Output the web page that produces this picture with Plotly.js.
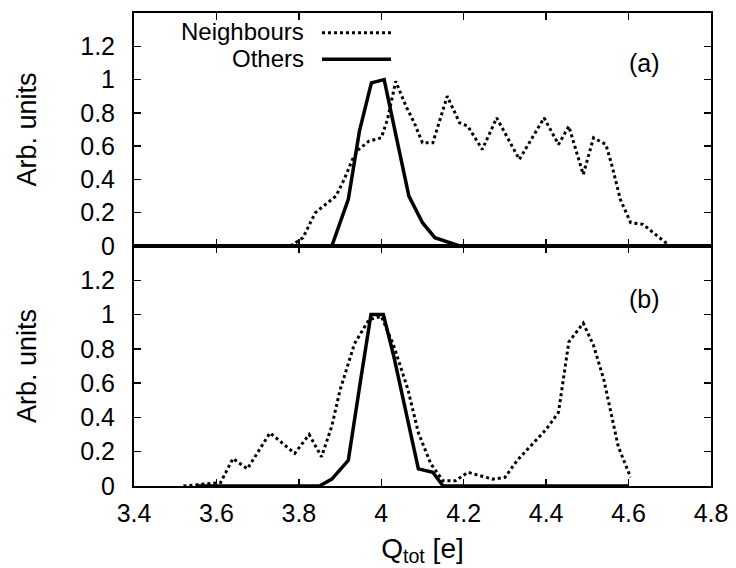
<!DOCTYPE html>
<html>
<head>
<meta charset="utf-8">
<script src="https://cdn.plot.ly/plotly-3.0.1.min.js"></script>
<style>html,body{margin:0;padding:0;background:#fff;}#chart{width:736px;height:568px;}</style>
</head>
<body>
<div id="chart"></div>
<script>
// Panel (a)
const neighA_x = [3.78,3.81,3.84,3.86,3.89,3.91,3.93,3.945,3.97,4.0,4.015,4.035,4.06,4.08,4.10,4.125,4.16,4.19,4.21,4.245,4.28,4.335,4.395,4.43,4.455,4.49,4.515,4.545,4.56,4.58,4.605,4.635,4.66,4.695];
const neighA_y = [0,0.05,0.2,0.24,0.3,0.4,0.52,0.58,0.63,0.65,0.76,0.99,0.84,0.74,0.62,0.62,0.9,0.74,0.72,0.58,0.77,0.52,0.77,0.61,0.72,0.43,0.65,0.61,0.48,0.28,0.14,0.13,0.08,0.01];
const othersA_x = [3.6,3.88,3.92,3.947,3.976,4.007,4.036,4.067,4.10,4.13,4.19,4.2];
const othersA_y = [0,0,0.28,0.69,0.98,1.0,0.66,0.30,0.14,0.05,0,0];
// Panel (b)
const neighB_x = [3.52,3.56,3.61,3.64,3.675,3.73,3.79,3.825,3.855,3.88,3.90,3.935,3.97,4.0,4.03,4.065,4.09,4.12,4.15,4.18,4.21,4.27,4.30,4.33,4.37,4.40,4.43,4.455,4.49,4.515,4.54,4.575,4.605];
const neighB_y = [0,0.01,0.02,0.16,0.1,0.31,0.19,0.3,0.17,0.35,0.56,0.83,0.97,0.99,0.82,0.56,0.31,0.13,0.03,0.03,0.08,0.04,0.05,0.15,0.25,0.33,0.43,0.84,0.95,0.82,0.62,0.23,0.05];
const othersB_x = [3.55,3.85,3.88,3.92,3.95,3.975,4.005,4.03,4.09,4.125,4.15,4.6];
const othersB_y = [0,0,0.04,0.15,0.62,1.0,1.0,0.76,0.1,0.08,0,0];

const xTickVals = [3.4,3.6,3.8,4.0,4.2,4.4,4.6,4.8];
const xTickText = ['3.4','3.6','3.8','4','4.2','4.4','4.6','4.8'];
const yTickVals = [0,0.2,0.4,0.6,0.8,1.0,1.2];
const yTickText = ['0','0.2','0.4','0.6','0.8','1','1.2'];
const seriesNames = ['Neighbours','Others'];
const panelLabels = ['(a)','(b)'];

const FONT = 'Liberation Sans, Arial, Helvetica, sans-serif';
const dotLine = {color:'#000', width:3, dash:'dot'};
const solidLine = {color:'#000', width:3.5};

const traces = [
  {x:neighA_x, y:neighA_y, mode:'lines', line:dotLine, name:seriesNames[0], xaxis:'x', yaxis:'y', showlegend:false},
  {x:othersA_x, y:othersA_y, mode:'lines', line:solidLine, name:seriesNames[1], xaxis:'x', yaxis:'y', showlegend:false},
  {x:neighB_x, y:neighB_y, mode:'lines', line:dotLine, name:seriesNames[0], xaxis:'x2', yaxis:'y2', showlegend:false},
  {x:othersB_x, y:othersB_y, mode:'lines', line:solidLine, name:seriesNames[1], xaxis:'x2', yaxis:'y2', showlegend:false}
];

const axCommon = {
  showline:true, linecolor:'#000', linewidth:2, mirror:'ticks',
  ticks:'inside', ticklen:7, tickwidth:1.5, tickcolor:'#000',
  showgrid:false, zeroline:false,
  tickfont:{family:FONT, size:25, color:'#000'}
};

const bottomDomain = [0, 0.5074];
const topDomain = [0.5074, 1];

const layout = {
  width:736, height:568,
  margin:{l:134, r:25, t:13, b:82},
  paper_bgcolor:'#fff', plot_bgcolor:'#fff',
  font:{family:FONT, color:'#000'},
  showlegend:false,
  xaxis: Object.assign({}, axCommon, {domain:[0,1], anchor:'y', range:[3.4,4.8], tickvals:xTickVals, ticktext:xTickText, showticklabels:false}),
  yaxis: Object.assign({}, axCommon, {domain:topDomain, anchor:'x', range:[0,1.4], tickvals:yTickVals, ticktext:yTickText, ticklabelstandoff:12,
    title:{text:'Arb. units', font:{family:FONT, size:27, color:'#000'}, standoff:36}}),
  xaxis2: Object.assign({}, axCommon, {domain:[0,1], anchor:'y2', range:[3.4,4.8], tickvals:xTickVals, ticktext:xTickText, ticklabelstandoff:4,
    title:{text:'Q<sub>tot</sub> [e]', font:{family:FONT, size:28, color:'#000'}, standoff:12}}),
  yaxis2: Object.assign({}, axCommon, {domain:bottomDomain, anchor:'x2', range:[0,1.4], tickvals:yTickVals, ticktext:yTickText, ticklabelstandoff:12,
    title:{text:'Arb. units', font:{family:FONT, size:27, color:'#000'}, standoff:36}}),
  annotations:[
    {xref:'paper', yref:'paper', x:0.2964, y:0.9605, xanchor:'right', yanchor:'middle', text:seriesNames[0], showarrow:false, borderpad:0, font:{family:FONT, size:24, color:'#000'}},
    {xref:'paper', yref:'paper', x:0.2964, y:0.9042, xanchor:'right', yanchor:'middle', text:seriesNames[1], showarrow:false, borderpad:0, font:{family:FONT, size:24, color:'#000'}},
    {xref:'paper', yref:'paper', x:0.8856, y:0.8943, xanchor:'center', yanchor:'middle', text:panelLabels[0], showarrow:false, font:{family:FONT, size:25, color:'#000'}},
    {xref:'paper', yref:'paper', x:0.8856, y:0.3953, xanchor:'center', yanchor:'middle', text:panelLabels[1], showarrow:false, font:{family:FONT, size:25, color:'#000'}}
  ],
  shapes:[
    {type:'line', xref:'paper', yref:'paper', x0:0.3258, x1:0.4454, y0:0.9584, y1:0.9584, line:{color:'#000', width:3, dash:'dot'}},
    {type:'line', xref:'paper', yref:'paper', x0:0.3258, x1:0.4454, y0:0.9021, y1:0.9021, line:{color:'#000', width:3.5}}
  ]
};

Plotly.newPlot('chart', traces, layout, {staticPlot:true, displayModeBar:false});
</script>
</body>
</html>
